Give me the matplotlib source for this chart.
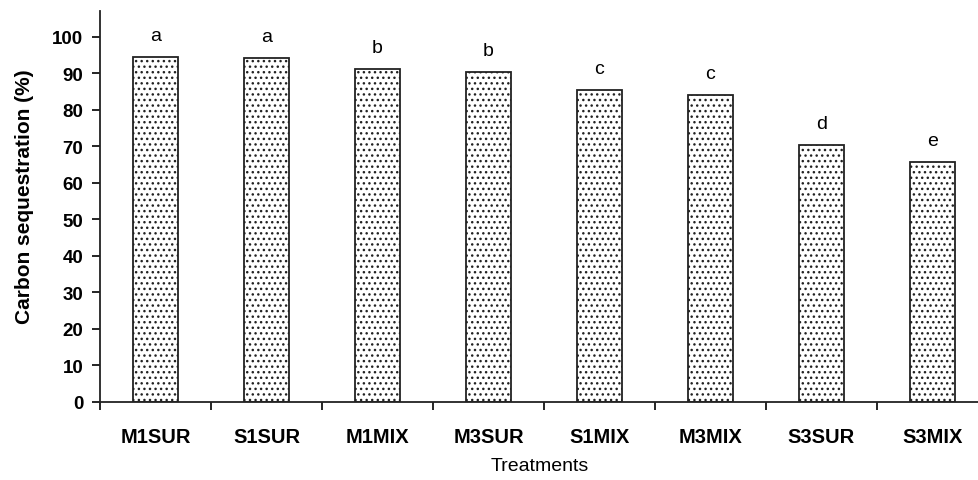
import matplotlib

matplotlib.use("Agg")
import matplotlib.pyplot as plt
import numpy as np

treatments = ["M1SUR", "S1SUR", "M1MIX", "M3SUR", "S1MIX", "M3MIX", "S3SUR", "S3MIX"]
sequestration = [94.5, 94.2, 91.2, 90.4, 85.4, 84.1, 70.4, 65.8]
groups = ["a", "a", "b", "b", "c", "c", "d", "e"]
y_ticks = list(range(0, 101, 10))

plt.rcParams["font.family"] = ["Liberation Sans", "DejaVu Sans"]
plt.rcParams["hatch.linewidth"] = 1.0
plt.rcParams["hatch.color"] = "#333333"

fig = plt.figure(figsize=(9.79, 4.81), dpi=100)
ax = fig.add_axes([100 / 979, 78 / 481, 1 - 100 / 979, 391 / 481])

x = np.arange(len(treatments))
bars = ax.bar(x, sequestration, width=0.41, color="white", edgecolor="#222222",
              linewidth=1.3, hatch="...")

for rect, g in zip(bars, groups):
    ax.annotate(g, (rect.get_x() + rect.get_width() / 2, rect.get_height()),
                xytext=(0, 9), textcoords="offset points", ha="center", va="bottom",
                fontsize=14)

ax.set_xlim(-0.5, 7.42)
ax.set_ylim(0, 107)
ax.set_yticks(y_ticks)
ax.set_yticklabels([str(t) for t in y_ticks], fontsize=13.5, fontweight="bold")
ax.set_xticks(x)
ax.set_xticklabels(treatments, fontsize=14.5, fontweight="bold")
ax.set_xticks(np.arange(-0.5, 7.5, 1.0), minor=True)
ax.tick_params(axis="x", which="major", length=0, pad=18)
ax.tick_params(axis="x", which="minor", length=6, width=1.2, direction="out")
ax.tick_params(axis="y", length=6, width=1.2, direction="out", pad=6)

for side in ("top", "right"):
    ax.spines[side].set_visible(False)
for side in ("left", "bottom"):
    ax.spines[side].set_linewidth(1.3)
    ax.spines[side].set_color("#222222")

ax.set_ylabel("Carbon sequestration (%)", fontsize=15, fontweight="bold")
ax.yaxis.set_label_coords(-0.075, 0.527)
ax.set_xlabel("Treatments", fontsize=14, labelpad=8)

fig.savefig("out.png", dpi=100)
plt.close(fig)
